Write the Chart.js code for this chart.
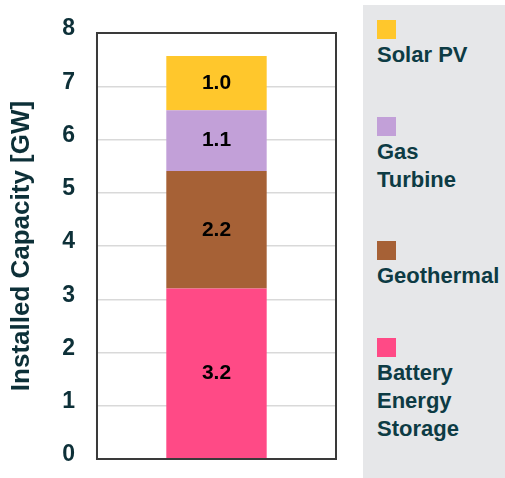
<!DOCTYPE html>
<html>
<head>
<meta charset="utf-8">
<script src="https://cdn.jsdelivr.net/npm/chart.js@4"></script>
<style>
  body { margin: 0; background: #fff; font-family: "Liberation Sans", Arial, sans-serif; }
  #wrap { position: relative; width: 505px; height: 478px; }
  #chartBox { position: absolute; left: 0; top: 0; width: 350px; height: 478px; }
  #legend { position: absolute; left: 363px; top: 5px; width: 142px; height: 473px; background: #e6e7e9; }
  .item { position: absolute; left: 14px; }
  .item .sw { width: 19px; height: 19px; }
  .item .tx { color: #0d3b44; font-weight: bold; font-size: 22px; line-height: 28px; margin-top: 2px; white-space: nowrap; }
</style>
</head>
<body>
<div id="wrap">
  <div id="chartBox"><canvas id="myChart"></canvas></div>
  <div id="legend"></div>
</div>
<script>
// one stacked column, bottom to top
const categories = [''];
const seriesNames = ['Battery Energy Storage', 'Geothermal', 'Gas Turbine', 'Solar PV'];
const legendLines = [['Battery', 'Energy', 'Storage'], ['Geothermal'], ['Gas', 'Turbine'], ['Solar PV']];
const seriesValues = [3.2, 2.21, 1.14, 1.02];
const seriesColors = ['#ff4a86', '#a66136', '#c2a0d8', '#ffc72c'];
const yTicks = [0, 1, 2, 3, 4, 5, 6, 7, 8];

const textColor = '#0d3038';

const datasets = seriesNames.map((name, i) => ({
  label: name,
  data: [seriesValues[i]],
  backgroundColor: seriesColors[i],
  borderWidth: 0,
  barPercentage: 0.42,
  categoryPercentage: 1
}));

// values written inside each segment
const valueLabels = {
  id: 'valueLabels',
  afterDatasetsDraw(chart) {
    const c = chart.ctx;
    c.save();
    c.font = 'bold 21px "Liberation Sans", Arial, sans-serif';
    c.fillStyle = '#000';
    c.textAlign = 'center';
    c.textBaseline = 'middle';
    chart.data.datasets.forEach((ds, i) => {
      chart.getDatasetMeta(i).data.forEach((bar, j) => {
        const mid = (bar.y + bar.base) / 2;
        c.fillText(ds.data[j].toFixed(1), bar.x, mid);
      });
    });
    c.restore();
  }
};

// dark frame round the plot area
const frame = {
  id: 'frame',
  afterDraw(chart) {
    const a = chart.chartArea;
    const c = chart.ctx;
    c.save();
    c.strokeStyle = '#3a3a3a';
    c.lineWidth = 2;
    c.strokeRect(a.left, a.top, a.right - a.left, a.bottom - a.top);
    c.restore();
  }
};

const ctx = document.getElementById('myChart');
const chart = new Chart(ctx, {
  type: 'bar',
  data: { labels: categories, datasets: datasets },
  options: {
    responsive: true,
    maintainAspectRatio: false,
    animation: false,
    layout: { padding: { top: 33, bottom: 19, right: 14, left: 6 } },
    plugins: { legend: { display: false }, tooltip: { enabled: false } },
    scales: {
      x: { stacked: true, display: false },
      y: {
        stacked: true,
        min: 0,
        max: 8,
        afterBuildTicks: axis => { axis.ticks = yTicks.map(v => ({ value: v })); },
        afterFit: axis => { axis.paddingTop = 0; axis.paddingBottom = 0; },
        grid: { color: '#d9d9d9', lineWidth: 1.5, drawTicks: false },
        border: { display: false },
        ticks: {
          padding: 22,
          labelOffset: -4,
          color: textColor,
          font: { family: '"Liberation Sans", Arial, sans-serif', size: 23, weight: 'bold' }
        },
        title: {
          display: true,
          text: 'Installed Capacity [GW]',
          color: textColor,
          padding: { top: 0, bottom: 3 },
          font: { family: '"Liberation Sans", Arial, sans-serif', size: 26, weight: 'bold' }
        }
      }
    }
  },
  plugins: [valueLabels, frame]
});

// legend: top series first, swatch above its name
const legendTops = [338, 241, 117, 20];
const legendEl = document.getElementById('legend');
for (let i = seriesNames.length - 1; i >= 0; i--) {
  const item = document.createElement('div');
  item.className = 'item';
  item.style.top = (legendTops[i] - 5) + 'px';
  const sw = document.createElement('div');
  sw.className = 'sw';
  sw.style.background = seriesColors[i];
  item.appendChild(sw);
  const tx = document.createElement('div');
  tx.className = 'tx';
  tx.innerHTML = legendLines[i].join('<br>');
  item.appendChild(tx);
  legendEl.appendChild(item);
}
</script>
</body>
</html>
